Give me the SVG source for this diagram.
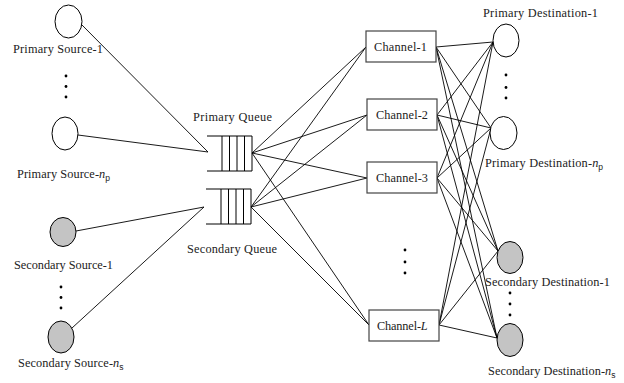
<svg xmlns="http://www.w3.org/2000/svg" width="624" height="383" viewBox="0 0 624 383">
<style>
.lbl{font-family:"Liberation Serif","Times New Roman",serif;font-size:12.3px;fill:#222}
.it{font-style:italic}
.sub{font-family:"Liberation Sans",Arial,sans-serif;font-size:8.5px}
.src{fill:#fff;stroke:#000;stroke-width:1}
.sec{fill:#c4c4c4;stroke:#000;stroke-width:1}
.ch{fill:#fff;stroke:#444;stroke-width:1.2}
.q{fill:none;stroke:#000;stroke-width:1}
.dot{fill:#000}
#connectors line{stroke:#000;stroke-width:0.9}
</style>
<rect width="624" height="383" fill="#fff"/>
<g id="connectors">
<line x1="82" y1="25" x2="208" y2="152"/>
<line x1="78" y1="135" x2="208" y2="152"/>
<line x1="76" y1="231" x2="204" y2="207"/>
<line x1="72" y1="328" x2="204" y2="207"/>
<line x1="252" y1="153" x2="366" y2="47"/>
<line x1="252" y1="153" x2="367" y2="115"/>
<line x1="252" y1="153" x2="367" y2="178"/>
<line x1="252" y1="153" x2="369" y2="325"/>
<line x1="251" y1="207" x2="366" y2="47"/>
<line x1="251" y1="207" x2="367" y2="115"/>
<line x1="251" y1="207" x2="367" y2="178"/>
<line x1="251" y1="207" x2="369" y2="325"/>
<line x1="436" y1="47" x2="493" y2="42"/>
<line x1="436" y1="47" x2="491" y2="128"/>
<line x1="436" y1="47" x2="498" y2="251"/>
<line x1="436" y1="47" x2="497" y2="338"/>
<line x1="437" y1="115" x2="493" y2="42"/>
<line x1="437" y1="115" x2="491" y2="128"/>
<line x1="437" y1="115" x2="498" y2="251"/>
<line x1="437" y1="115" x2="497" y2="338"/>
<line x1="437" y1="178" x2="493" y2="42"/>
<line x1="437" y1="178" x2="491" y2="128"/>
<line x1="437" y1="178" x2="498" y2="251"/>
<line x1="437" y1="178" x2="497" y2="338"/>
<line x1="439" y1="325" x2="493" y2="42"/>
<line x1="439" y1="325" x2="491" y2="128"/>
<line x1="439" y1="325" x2="498" y2="251"/>
<line x1="439" y1="325" x2="497" y2="338"/>
</g>
<g id="primary-source-1">
<ellipse class="src" cx="68.5" cy="21.5" rx="13.5" ry="16.5"/>
<text class="lbl" x="13" y="53" textLength="90" lengthAdjust="spacing">Primary Source-1</text>
</g>
<g id="primary-source-dots">
<circle class="dot" cx="66" cy="76" r="1.4"/><circle class="dot" cx="66" cy="86.5" r="1.4"/><circle class="dot" cx="66" cy="97" r="1.4"/>
</g>
<g id="primary-source-np">
<ellipse class="src" cx="65" cy="133.5" rx="13" ry="16.5"/>
<text class="lbl" x="17" y="178"><tspan textLength="82" lengthAdjust="spacing">Primary Source-</tspan><tspan class="it">n</tspan><tspan class="sub" dy="2.5">p</tspan></text>
</g>
<g id="secondary-source-1">
<ellipse class="sec" cx="63" cy="232" rx="13" ry="14.5"/>
<text class="lbl" x="14" y="269" textLength="99" lengthAdjust="spacing">Secondary Source-1</text>
</g>
<g id="secondary-source-dots">
<circle class="dot" cx="61" cy="287" r="1.4"/><circle class="dot" cx="61" cy="297.5" r="1.4"/><circle class="dot" cx="61" cy="308" r="1.4"/>
</g>
<g id="secondary-source-ns">
<ellipse class="sec" cx="61" cy="337" rx="13" ry="16"/>
<text class="lbl" x="18" y="367"><tspan textLength="95" lengthAdjust="spacing">Secondary Source-</tspan><tspan class="it">n</tspan><tspan class="sub" dy="2.5">s</tspan></text>
</g>
<g id="primary-queue">
<path class="q" d="M207 136H252V171H207M222 136V171M229.5 136V171M237 136V171M244.5 136V171"/>
<text class="lbl" x="193" y="121" textLength="79" lengthAdjust="spacing">Primary Queue</text>
</g>
<g id="secondary-queue">
<path class="q" d="M206 189H251V224H206M221 189V224M228.5 189V224M236 189V224M243.5 189V224"/>
<text class="lbl" x="187" y="253" textLength="90" lengthAdjust="spacing">Secondary Queue</text>
</g>
<g id="channel-1">
<rect class="ch" x="366" y="31" width="70" height="31"/>
<text class="lbl" x="374" y="51" textLength="53" lengthAdjust="spacing">Channel-1</text>
</g>
<g id="channel-2">
<rect class="ch" x="367" y="99" width="70" height="31"/>
<text class="lbl" x="376" y="119" textLength="52" lengthAdjust="spacing">Channel-2</text>
</g>
<g id="channel-3">
<rect class="ch" x="367" y="162" width="70" height="31"/>
<text class="lbl" x="376" y="182" textLength="52" lengthAdjust="spacing">Channel-3</text>
</g>
<g id="channel-dots">
<circle class="dot" cx="405" cy="250" r="1.4"/><circle class="dot" cx="405" cy="262" r="1.4"/><circle class="dot" cx="405" cy="273" r="1.4"/>
</g>
<g id="channel-L">
<rect class="ch" x="369" y="310" width="70" height="31"/>
<text class="lbl" x="377" y="330"><tspan textLength="44" lengthAdjust="spacing">Channel-</tspan><tspan class="it">L</tspan></text>
</g>
<g id="primary-destination-1">
<ellipse class="src" cx="506" cy="40.5" rx="13" ry="16.5"/>
<text class="lbl" x="483" y="17" textLength="115" lengthAdjust="spacing">Primary Destination-1</text>
</g>
<g id="primary-destination-dots">
<circle class="dot" cx="506" cy="75" r="1.4"/><circle class="dot" cx="506" cy="87.5" r="1.4"/><circle class="dot" cx="506" cy="98" r="1.4"/>
</g>
<g id="primary-destination-np">
<ellipse class="src" cx="503.5" cy="133" rx="13.5" ry="16.5"/>
<text class="lbl" x="485" y="167"><tspan textLength="107" lengthAdjust="spacing">Primary Destination-</tspan><tspan class="it">n</tspan><tspan class="sub" dy="2.5">p</tspan></text>
</g>
<g id="secondary-destination-1">
<ellipse class="sec" cx="510" cy="257.5" rx="13" ry="16"/>
<text class="lbl" x="485" y="286" textLength="125" lengthAdjust="spacing">Secondary Destination-1</text>
</g>
<g id="secondary-destination-dots">
<circle class="dot" cx="510" cy="293" r="1.4"/><circle class="dot" cx="510" cy="304" r="1.4"/><circle class="dot" cx="510" cy="315" r="1.4"/>
</g>
<g id="secondary-destination-ns">
<ellipse class="sec" cx="510" cy="340" rx="13" ry="16.5"/>
<text class="lbl" x="488" y="375"><tspan textLength="117" lengthAdjust="spacing">Secondary Destination-</tspan><tspan class="it">n</tspan><tspan class="sub" dy="2.5">s</tspan></text>
</g>
</svg>
